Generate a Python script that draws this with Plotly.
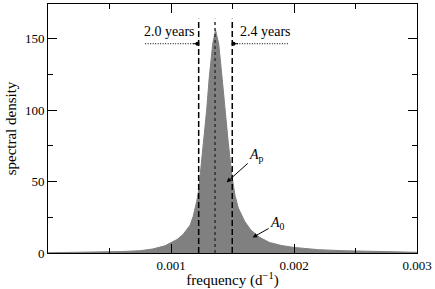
import plotly.graph_objects as go

# spectral density curve
freq = [0.0, 0.0002, 0.0004, 0.0005, 0.0006, 0.00075, 0.00085, 0.00095, 0.001, 0.00105,
        0.0011, 0.00114, 0.001155, 0.00118, 0.001195, 0.00121, 0.001225, 0.001236, 0.001266,
        0.00129, 0.001311, 0.001339, 0.001362, 0.001388, 0.001415, 0.001439, 0.001466,
        0.001496, 0.00152, 0.001547, 0.00157, 0.0016, 0.00165, 0.00172, 0.0018, 0.0019,
        0.002, 0.0021, 0.0022, 0.0024, 0.0026, 0.0028, 0.003]
density = [0.2, 0.35, 0.55, 0.7, 1.0, 1.6, 2.8, 5.0, 7.2, 9.5,
           13.2, 17.5, 19.5, 25.5, 30.6, 36.5, 44.0, 53.7, 76.9,
           100, 123, 146.3, 156, 146.3, 123, 100, 76.9,
           53.7, 40.5, 31.5, 27.0, 22.0, 16.0, 11.0, 7.4, 5.2,
           3.9, 3.0, 2.3, 1.6, 1.1, 0.8, 0.5]

band_lo = 0.001225   # dashed line "2.0 years"
band_hi = 0.001498   # dashed line "2.4 years"
peak_f = 0.001358    # dotted line at peak
line_top = 164

x_ticks = [0.001, 0.002, 0.003]
x_tick_text = ["0.001", "0.002", "0.003"]
y_ticks = [0, 50, 100, 150]

FONT = "Liberation Serif"

fig = go.Figure()
fig.add_trace(go.Scatter(x=freq, y=density, mode="lines", fill="tozeroy",
                         line=dict(color="#808080", width=1), fillcolor="#808080",
                         hoverinfo="skip"))

shapes = []
for xv in (band_lo, band_hi):
    shapes.append(dict(type="line", xref="x", yref="y", x0=xv, x1=xv, y0=0, y1=line_top,
                       line=dict(color="black", width=1.5, dash="6px,3px")))
shapes.append(dict(type="line", xref="x", yref="y", x0=peak_f, x1=peak_f, y0=0, y1=line_top,
                   line=dict(color="#333333", width=1.5, dash="dot")))
# dotted arrows from labels to dashed lines
shapes.append(dict(type="line", xref="x", yref="y", x0=0.00079, x1=band_lo - 0.00001,
                   y0=146.5, y1=146.5, line=dict(color="black", width=1, dash="1px,1.5px")))
shapes.append(dict(type="line", xref="x", yref="y", x0=0.00195, x1=band_hi + 0.00001,
                   y0=146.5, y1=146.5, line=dict(color="black", width=1, dash="1px,1.5px")))

annotations = [
    dict(x=0.000985, y=155, xref="x", yref="y", text="2.0 years", showarrow=False,
         font=dict(family=FONT, size=14, color="black")),
    dict(x=0.00177, y=155, xref="x", yref="y", text="2.4 years", showarrow=False,
         font=dict(family=FONT, size=14, color="black")),
    dict(x=band_lo - 0.00001, y=146.5, xref="x", yref="y", ax=-6, ay=0, text="",
         showarrow=True, arrowhead=6, arrowsize=1, arrowwidth=1, arrowcolor="black"),
    dict(x=band_hi + 0.00001, y=146.5, xref="x", yref="y", ax=6, ay=0, text="",
         showarrow=True, arrowhead=6, arrowsize=1, arrowwidth=1, arrowcolor="black"),
    dict(x=0.001453, y=49.5, xref="x", yref="y", ax=30, ay=-27,
         text="<i>A</i><sub>p</sub>", showarrow=True, arrowhead=2, arrowsize=0.9,
         arrowwidth=1, arrowcolor="black", font=dict(family=FONT, size=14, color="black")),
    dict(x=0.001664, y=10.9, xref="x", yref="y", ax=25, ay=-14,
         text="<i>A</i><sub>0</sub>", showarrow=True, arrowhead=2, arrowsize=0.9,
         arrowwidth=1, arrowcolor="black", font=dict(family=FONT, size=14, color="black")),
]

fig.update_layout(
    width=435, height=289,
    margin=dict(l=48, r=17, t=3, b=35),
    paper_bgcolor="white", plot_bgcolor="white",
    showlegend=False,
    font=dict(family=FONT, size=13, color="black"),
    shapes=shapes, annotations=annotations,
    xaxis=dict(range=[0, 0.003], tickvals=x_ticks, ticktext=x_tick_text,
               ticks="inside", ticklen=9, tickwidth=1, tickcolor="black",
               showline=True, linecolor="black", linewidth=1, mirror="ticks",
               showgrid=False, zeroline=False,
               tickfont=dict(family=FONT, size=13),
               minor=dict(dtick=0.0005, ticks="inside", ticklen=5, tickcolor="black", showgrid=False),
               title=dict(text="frequency (d<sup>−1</sup>)", standoff=3,
                          font=dict(family=FONT, size=15))),
    yaxis=dict(range=[0, 174.3], tickvals=y_ticks,
               ticks="inside", ticklen=9, tickwidth=1, tickcolor="black",
               showline=True, linecolor="black", linewidth=1, mirror="ticks",
               showgrid=False, zeroline=False,
               tickfont=dict(family=FONT, size=13),
               minor=dict(dtick=25, ticks="inside", ticklen=5, tickcolor="black", showgrid=False),
               title=dict(text="spectral density", standoff=4,
                          font=dict(family=FONT, size=15))),
)

fig.write_html("out.html", config={"displayModeBar": False},
               post_script="document.body.style.margin='0';document.body.style.overflow='hidden';")
